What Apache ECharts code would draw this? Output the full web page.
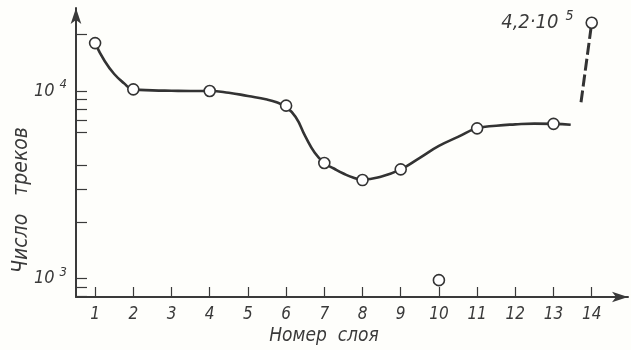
<!DOCTYPE html>
<html>
<head>
<meta charset="utf-8">
<script src="https://cdn.jsdelivr.net/npm/echarts@6/dist/echarts.min.js"></script>
<style>
html,body{margin:0;padding:0;background:#fefefb;}
#chart{width:631px;height:350px;}
</style>
</head>
<body>
<div id="chart"></div>
<script>
// Layer numbers (x) and track counts (y), curve
const curveLayers = [1, 1.25, 1.5, 1.75, 2, 2.5, 3, 3.5, 4, 4.5, 5, 5.5, 5.75, 6, 6.25, 6.5, 6.75, 7, 7.25, 7.5, 7.75, 8, 8.5, 9, 9.5, 10, 10.5, 11, 11.5, 12, 12.5, 13, 13.45];
const curveCounts = [18000, 14450, 12320, 11030, 10200, 10080, 10030, 10000, 10000, 9790, 9400, 9000, 8700, 8215, 7265, 5750, 4690, 4130, 3860, 3630, 3460, 3370, 3500, 3820, 4400, 5090, 5690, 6320, 6530, 6640, 6700, 6680, 6600];
const pointLayers = [1, 2, 4, 6, 7, 8, 9, 10, 11, 13];
const pointCounts = [18000, 10200, 10000, 8350, 4130, 3350, 3820, 980, 6320, 6680];
const breakLayers = [13.72, 14];
const breakCounts = [8700, 23100];
const farLayer = 14;
const farShownCount = 23100;   // position on the broken scale
const farLabelText = '4,2·10';
const farLabelPower = '5';
const xTickLabels = [1, 2, 3, 4, 5, 6, 7, 8, 9, 10, 11, 12, 13, 14];
const yLabelValues = [1000, 10000];
const yTickValues = [800, 900, 1000, 2000, 3000, 4000, 6000, 7000, 8000, 9000, 10000, 20000];

const FONT = '"Liberation Sans Narrow", "DejaVu Sans Condensed", "DejaVu Sans", sans-serif';
const INK = '#3a3a3a';

const zip = (a, b) => a.map((v, i) => [v, b[i]]);

const chart = echarts.init(document.getElementById('chart'));
chart.setOption({
  backgroundColor: '#fefefb',
  animation: false,
  grid: {left: 76, right: 3, top: 8, bottom: 53, containLabel: false},
  xAxis: {
    type: 'value', min: 0.5, max: 14.95,
    axisLine: {show: true, symbol: ['none', 'arrow'], symbolSize: [8, 16], lineStyle: {color: INK, width: 2}},
    axisTick: {show: true, inside: true, length: 10, customValues: xTickLabels, lineStyle: {color: INK, width: 1.2}},
    axisLabel: {customValues: xTickLabels, margin: 9, color: INK, fontSize: 17, fontStyle: 'italic', fontFamily: FONT},
    splitLine: {show: false}
  },
  yAxis: {
    type: 'log', logBase: 10, min: 797, max: 27700,
    axisLine: {show: true, symbol: ['none', 'arrow'], symbolSize: [8, 16], lineStyle: {color: INK, width: 2}},
    axisTick: {show: true, inside: true, length: 11, customValues: yTickValues, lineStyle: {color: INK, width: 1.2}},
    axisLabel: {
      customValues: yLabelValues, margin: 9, color: INK, fontStyle: 'italic', fontFamily: FONT,
      formatter: v => '{b|10}{s|' + Math.round(Math.log10(v)) + '}',
      rich: {
        b: {fontSize: 18, fontStyle: 'italic', fontFamily: FONT, color: INK},
        s: {fontSize: 13, fontStyle: 'italic', fontFamily: FONT, color: INK, padding: [0, 0, 12, 5]}
      }
    },
    splitLine: {show: false}
  },
  graphic: [
    {type: 'text', x: 22, y: 200, rotation: Math.PI / 2,
     style: {text: 'Число   треков', fontSize: 21, fontStyle: 'italic', fontFamily: FONT, fill: INK, align: 'center', verticalAlign: 'middle'}},
    {type: 'text', x: 324, y: 336,
     style: {text: 'Номер  слоя', fontSize: 19, fontStyle: 'italic', fontFamily: FONT, fill: INK, align: 'center', verticalAlign: 'middle'}}
  ],
  series: [
    {type: 'line', data: zip(curveLayers, curveCounts), smooth: 0.5, showSymbol: false,
     lineStyle: {color: '#333', width: 2.6}, z: 2},
    {type: 'line', data: zip(breakLayers, breakCounts), showSymbol: false,
     lineStyle: {color: '#333', width: 3, type: [12, 4]}, z: 2},
    {type: 'scatter', data: zip(pointLayers, pointCounts), symbol: 'circle', symbolSize: 11,
     itemStyle: {color: '#fff', borderColor: '#333', borderWidth: 1.6, opacity: 1}, z: 3},
    {type: 'scatter', data: [[farLayer, farShownCount]], symbol: 'circle', symbolSize: 11,
     itemStyle: {color: '#fff', borderColor: '#333', borderWidth: 1.6, opacity: 1}, z: 3,
     label: {show: true, position: 'left', distance: 12,
       formatter: () => '{b|' + farLabelText + '}{s|' + farLabelPower + '}',
       rich: {
         b: {fontSize: 20, fontStyle: 'italic', fontFamily: FONT, color: INK},
         s: {fontSize: 14, fontStyle: 'italic', fontFamily: FONT, color: INK, padding: [0, 0, 12, 7]}
       }}}
  ]
});
</script>
</body>
</html>
